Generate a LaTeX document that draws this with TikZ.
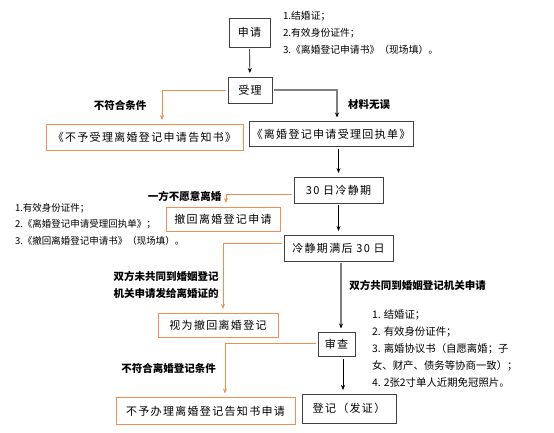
\documentclass[tikz,border=0pt]{standalone}
\usepackage{fontspec}
\setmainfont{Noto Sans CJK SC}
\newfontfamily\boxfont[LetterSpace=12]{Noto Sans CJK SC}
\usepackage{xcolor}
\definecolor{frame}{HTML}{404040}
\definecolor{orange}{HTML}{EE9150}
\definecolor{line}{HTML}{808080}
\usepackage{tikz}
\usetikzlibrary{
    arrows.meta,
}

\begin{document}
\begin{tikzpicture}[%
    x=1pt, y=-1pt,
    every node/.style={inner sep=0, outer sep=0},
    stage/.style={
        draw=frame,
        line width=0.8pt,
        font=\boxfont\fontsize{11}{13}\selectfont,
        align=center,
    },
    deny/.style={
        stage,
        draw=orange,
    },
    label/.style={
        font=\bfseries\fontsize{10.5}{16.5}\selectfont,
        align=left,
    },
    note/.style={
        font=\fontsize{9.8}{17}\selectfont,
        align=left,
        anchor=north west,
    },
    go/.style={
        draw=black,
        line width=0.6pt,
        -{Stealth[length=5pt,width=4pt]},
        shorten <=2pt,
        shorten >=4pt,
    },
    ok/.style={
        go,
        draw=line,
        line width=1.4pt,
        -{Stealth[length=5pt,width=4pt,black]},
    },
    no/.style={
        go,
        draw=orange,
        -{Stealth[length=5pt,width=4pt,orange]},
    },
]

\useasboundingbox (0, 0) rectangle (554, 432);

% main line
\node [stage, minimum width=41pt, minimum height=29pt] (apply)    at (249.5, 32.5) {申请};
\node [stage, minimum width=44pt, minimum height=26pt] (accept)   at (250, 90)     {受理};
\node [stage, minimum width=164pt, minimum height=25pt] (receipt) at (331, 134)    {《离婚登记申请受理回执单》};
\node [stage, minimum width=89pt, minimum height=26pt] (cool)     at (338.5, 190)  {30 日冷静期};
\node [stage, minimum width=109pt, minimum height=26pt] (after)   at (338.5, 248)  {冷静期满后 30 日};
\node [stage, minimum width=37pt, minimum height=24pt] (review)   at (336.5, 344.5) {审查};
\node [stage, minimum width=94pt, minimum height=29pt] (register) at (349, 408.5)  {登记（发证）};

% side branches
\node [deny, minimum width=197pt, minimum height=26pt] (rejectA)  at (144.5, 137)  {《不予受理离婚登记申请告知书》};
\node [deny, minimum width=114pt, minimum height=24pt] (withdraw) at (223, 219)    {撤回离婚登记申请};
\node [deny, minimum width=120pt, minimum height=24pt] (deemed)   at (218, 325)    {视为撤回离婚登记};
\node [deny, minimum width=179pt, minimum height=27pt] (rejectB)  at (205.5, 411)  {不予办理离婚登记告知书申请};

% notes
\node [note] (applyNote) at (283, 11) {1.结婚证；\\2.有效身份证件；\\3.《离婚登记申请书》（现场填）。};
\node [note, font=\fontsize{9.5}{16.5}\selectfont] (withdrawNote) at (15, 203) {1.有效身份证件；\\2.《离婚登记申请受理回执单》；\\3.《撤回离婚登记申请书》（现场填）。};
\node [note, font=\fontsize{10.4}{17}\selectfont] (reviewNote) at (372, 310) {1. 结婚证；\\2. 有效身份证件；\\3. 离婚协议书（自愿离婚；子\\女、财产、债务等协商一致）；\\4. 2张2寸单人近期免冠照片。};

% labels
\node [label] (unfitA)   at (120, 105)   {不符合条件};
\node [label] (fine)     at (369, 105)   {材料无误};
\node [label] (refuse)   at (184.5, 196) {一方不愿意离婚};
\node [label] (absent)   at (166, 285)   {双方未共同到婚姻登记\\机关申请发给离婚证的};
\node [label] (together) at (417.5, 285) {双方共同到婚姻登记机关申请};
\node [label] (unfitB)   at (168.5, 368) {不符合离婚登记条件};

% connectors
\draw [go] (apply) -- (accept);
\draw [no] (accept.west) -| ([xshift=17.5pt]rejectA.north);
\draw [ok] (accept.east) -| ([xshift=6pt]receipt.north);
\draw [go] (cool.north |- receipt.south) -- (cool.north);
\draw [no] ([yshift=-4pt]cool.west) -| ([xshift=3pt]withdraw.north);
\draw [go] (cool.south) -- (after.north);
\draw [no] ([yshift=5pt]after.west) -| ([xshift=5pt]deemed.north);
\draw [ok] ([xshift=2.5pt]after.south) -- ([xshift=2.5pt]after.south |- review.north);
\draw [no] ([yshift=1.5pt]review.west) -| ([xshift=19.5pt]rejectB.north);
\draw [go] ([xshift=6.5pt]review.south) -- ([xshift=6.5pt]review.south |- register.north);

\end{tikzpicture}
\end{document}
